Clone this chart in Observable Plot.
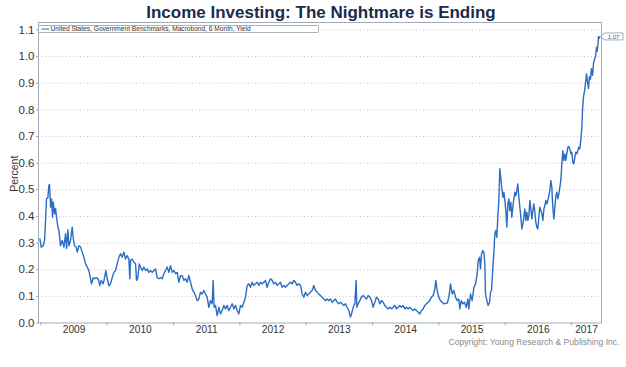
<!DOCTYPE html>
<html><head><meta charset="utf-8">
<script src="https://cdn.jsdelivr.net/npm/d3@7"></script>
<script src="https://cdn.jsdelivr.net/npm/@observablehq/plot@0.6"></script>
<style>body{margin:0;background:#fff}</style>
</head><body><div id="chart"></div>
<script>
// decimal years
const dates = [
2008.985,2009.005,2009.035,2009.055,2009.070,2009.085,2009.105,2009.120,2009.130,2009.146,
2009.161,2009.176,2009.186,2009.206,2009.221,2009.236,2009.256,2009.271,2009.296,2009.321,
2009.347,2009.372,2009.387,2009.407,2009.422,2009.447,2009.472,2009.487,2009.507,2009.532,
2009.548,2009.573,2009.598,2009.623,2009.648,2009.673,2009.698,2009.723,2009.749,2009.764,
2009.789,2009.809,2009.834,2009.864,2009.889,2009.909,2009.939,2009.960,2009.980,2010.000,
2010.025,2010.050,2010.075,2010.100,2010.125,2010.151,2010.176,2010.201,2010.226,2010.251,
2010.276,2010.301,2010.326,2010.341,2010.352,2010.377,2010.402,2010.427,2010.442,2010.462,
2010.482,2010.502,2010.527,2010.553,2010.578,2010.603,2010.628,2010.653,2010.678,2010.703,
2010.728,2010.753,2010.778,2010.804,2010.829,2010.854,2010.879,2010.904,2010.929,2010.954,
2010.980,2011.005,2011.030,2011.055,2011.080,2011.105,
2011.130,2011.155,2011.180,2011.205,2011.230,2011.256,2011.281,2011.306,2011.331,2011.356,
2011.381,2011.406,2011.431,2011.457,2011.482,2011.507,2011.532,2011.557,2011.582,2011.597,
2011.612,2011.632,2011.658,2011.683,2011.708,2011.733,2011.758,2011.783,2011.808,2011.833,
2011.859,2011.884,2011.909,2011.934,2011.959,2011.984,2012.009,2012.034,2012.060,2012.085,
2012.110,2012.135,2012.160,2012.185,2012.210,2012.235,2012.261,2012.286,2012.311,2012.336,
2012.361,2012.386,2012.411,2012.436,2012.462,2012.487,2012.512,2012.537,2012.562,2012.587,
2012.612,2012.637,2012.663,2012.688,2012.713,2012.738,2012.763,2012.788,2012.813,2012.838,
2012.863,2012.889,2012.914,2012.939,2012.964,2012.989,2013.014,2013.039,2013.064,2013.090,
2013.115,2013.140,2013.165,2013.190,2013.215,2013.240,2013.265,2013.291,2013.316,2013.341,
2013.366,2013.391,2013.416,2013.441,2013.466,2013.492,2013.517,2013.542,2013.567,2013.592,
2013.617,2013.642,2013.667,2013.683,2013.703,2013.718,2013.733,2013.753,2013.763,2013.783,
2013.808,2013.833,2013.858,2013.884,2013.909,2013.934,2013.959,2013.984,2014.009,2014.034,
2014.059,2014.085,2014.110,2014.135,2014.160,2014.185,2014.210,2014.235,2014.261,2014.286,
2014.311,2014.336,2014.361,2014.386,2014.411,2014.436,2014.461,2014.487,2014.512,2014.537,
2014.562,2014.587,2014.612,2014.637,2014.662,2014.687,2014.713,2014.738,2014.763,2014.788,
2014.813,2014.838,2014.863,2014.888,2014.914,2014.939,2014.954,2014.974,2014.999,2015.024,
2015.075,2015.126,2015.151,2015.176,2015.201,2015.226,2015.251,2015.276,2015.301,2015.316,
2015.337,2015.362,2015.387,2015.412,2015.437,2015.452,2015.477,2015.502,2015.528,2015.553,
2015.578,2015.593,2015.613,2015.628,2015.643,2015.663,2015.678,2015.693,2015.703,2015.729,
2015.744,2015.764,2015.779,2015.794,2015.814,2015.829,2015.844,2015.859,2015.874,2015.889,
2015.904,2015.919,2015.935,2015.950,2015.965,2015.980,2015.995,2016.010,2016.025,2016.040,
2016.055,2016.070,2016.085,2016.100,2016.115,2016.130,2016.146,2016.161,2016.176,2016.191,
2016.206,2016.221,2016.236,2016.251,2016.266,2016.281,2016.296,2016.311,2016.326,2016.342,
2016.357,2016.372,2016.387,2016.402,2016.417,2016.432,2016.447,2016.462,2016.477,2016.492,
2016.507,2016.522,2016.538,2016.553,2016.568,2016.583,2016.598,2016.613,2016.628,2016.643,
2016.658,2016.673,2016.688,2016.703,2016.718,2016.734,2016.749,2016.764,2016.779,2016.794,
2016.809,2016.824,2016.839,2016.854,2016.869,2016.884,2016.899,2016.914,2016.929,2016.945,
2016.960,2016.975,2016.990,2017.005,2017.020,2017.035,2017.050,2017.065,2017.080,2017.095,
2017.110,2017.125,2017.141,2017.156,2017.166,2017.181,2017.196,2017.211,2017.226,2017.241,
2017.256,2017.271,2017.286,2017.301,2017.317,2017.332,2017.347,2017.362,2017.377,2017.387,
2017.400,2017.407,2017.422
];
// percent
const yields = [
0.316,0.285,0.29,0.31,0.385,0.466,0.47,0.516,0.52,0.435,
0.466,0.397,0.454,0.41,0.43,0.397,0.36,0.35,0.29,0.31,
0.285,0.335,0.28,0.35,0.29,0.31,0.36,0.32,0.29,0.285,
0.266,0.29,0.285,0.266,0.247,0.222,0.21,0.197,0.166,0.147,
0.17,0.166,0.17,0.166,0.14,0.16,0.147,0.17,0.197,0.166,
0.14,0.147,0.17,0.19,0.197,0.222,0.247,0.26,0.247,0.266,
0.24,0.253,0.24,0.166,0.235,0.24,0.228,0.222,0.16,0.17,
0.222,0.21,0.197,0.21,0.197,0.203,0.19,0.197,0.19,0.197,
0.203,0.17,0.166,0.17,0.166,0.185,0.197,0.21,0.19,0.215,
0.19,0.197,0.185,0.19,0.153,0.178,
0.178,0.16,0.166,0.153,0.178,0.153,0.128,0.116,0.103,0.084,
0.09,0.116,0.109,0.122,0.109,0.097,0.059,0.084,0.072,0.16,
0.059,0.066,0.028,0.059,0.034,0.047,0.066,0.053,0.066,0.047,
0.059,0.072,0.053,0.066,0.047,0.034,0.066,0.059,0.078,0.097,
0.141,0.147,0.134,0.153,0.141,0.147,0.153,0.141,0.153,0.147,
0.153,0.16,0.134,0.153,0.166,0.16,0.147,0.153,0.141,0.147,
0.153,0.134,0.141,0.134,0.141,0.147,0.153,0.147,0.16,0.153,
0.141,0.147,0.141,0.109,0.097,0.116,0.103,0.109,0.116,0.122,
0.141,0.122,0.116,0.109,0.103,0.097,0.09,0.084,0.09,0.084,
0.09,0.078,0.084,0.09,0.078,0.072,0.078,0.072,0.066,0.072,
0.059,0.047,0.022,0.034,0.053,0.066,0.072,0.16,0.059,0.072,
0.084,0.097,0.103,0.097,0.09,0.103,0.097,0.084,0.059,0.078,
0.097,0.09,0.072,0.084,0.078,0.066,0.059,0.053,0.059,0.053,
0.059,0.066,0.053,0.059,0.066,0.059,0.066,0.053,0.059,0.053,
0.059,0.053,0.047,0.053,0.047,0.041,0.034,0.047,0.053,0.066,
0.072,0.078,0.084,0.097,0.103,0.128,0.16,0.122,0.097,0.084,
0.072,0.075,0.097,0.147,0.109,0.122,0.097,0.084,0.09,0.053,
0.084,0.072,0.078,0.059,0.09,0.053,0.109,0.084,0.134,0.147,
0.184,0.234,0.247,0.203,0.26,0.272,0.266,0.222,0.109,0.078,
0.066,0.078,0.116,0.122,0.209,0.26,0.335,0.347,0.322,0.397,
0.46,0.579,0.541,0.503,0.472,0.491,0.46,0.422,0.36,0.447,
0.466,0.422,0.453,0.397,0.435,0.466,0.491,0.478,0.497,0.522,
0.472,0.435,0.397,0.353,0.372,0.397,0.428,0.385,0.416,0.385,
0.403,0.46,0.428,0.391,0.422,0.447,0.416,0.378,0.36,0.353,
0.397,0.435,0.422,0.41,0.385,0.428,0.44,0.46,0.447,0.46,
0.478,0.497,0.535,0.51,0.435,0.391,0.435,0.478,0.491,0.466,
0.485,0.51,0.535,0.597,0.647,0.61,0.635,0.61,0.635,0.66,
0.663,0.653,0.635,0.641,0.603,0.597,0.622,0.641,0.635,0.647,
0.66,0.653,0.691,0.735,0.80,0.85,0.87,0.90,0.935,0.905,
0.88,0.925,0.915,0.955,0.93,0.975,0.99,1.0,1.035,1.02,
1.05,1.075,1.07
];
const yearTicks = [2009,2010,2011,2012,2013,2014,2015,2016,2017];
const yearLabelPos = [2009.5,2010.5,2011.5,2012.5,2013.5,2014.5,2015.5,2016.5,2017.226];
const yearLabels = ["2009","2010","2011","2012","2013","2014","2015","2016","2017"];
const yTicks = [0,0.1,0.2,0.3,0.4,0.5,0.6,0.7,0.8,0.9,1.0,1.1];
const title = "Income Investing: The Nightmare is Ending";
const seriesName = "United States, Government Benchmarks, Macrobond, 6 Month, Yield";
const yLabel = "Percent";
const copyright = "Copyright: Young Research & Publishing Inc.";
const lastLabel = "1.07";

const data = dates.map((t, i) => ({t, v: yields[i]}));
const FONT = "'Liberation Sans', Arial, sans-serif";
const FRAME = "#a3abb8";
const BLUE = "#2b6cc4";

const plot = Plot.plot({
  width: 626, height: 367,
  marginTop: 22, marginBottom: 44.5, marginLeft: 38, marginRight: 25,
  style: {fontFamily: FONT, fontSize: "11px", color: "#333", background: "#fff", overflow: "visible"},
  x: {type: "linear", domain: [2008.964, 2017.452]},
  y: {domain: [0, 1.128]},
  marks: [
    Plot.gridY(yTicks.filter(d => d > 0), {stroke: "#c4c4c4", strokeOpacity: 1, strokeDasharray: "1,2.5"}),
    Plot.line(data, {x: "t", y: "v", stroke: BLUE, strokeWidth: 1.4}),
    Plot.frame({stroke: FRAME}),
    Plot.axisY(yTicks, {tickSize: 2, tickPadding: 2, tickFormat: d => d.toFixed(1), fontSize: 11.5, label: null, stroke: FRAME, fill: "#333"}),
    Plot.axisX(yearTicks, {tickSize: 3, tickFormat: () => "", label: null, stroke: FRAME}),
    Plot.axisX(yearLabelPos, {tickSize: 0, tickPadding: 3, tickFormat: d => yearLabels[yearLabelPos.indexOf(d)], label: null, fontSize: 10.2, fill: "#333"}),
    Plot.text([title], {frameAnchor: "top", lineAnchor: "middle", dx: 1, dy: -9.5, text: d => d, fontSize: 17, fontWeight: "bold", fill: "#1b2a4a"}),
    Plot.text([yLabel], {frameAnchor: "left", lineAnchor: "middle", textAnchor: "middle", dx: -24, dy: 1, rotate: -90, text: d => d, fontSize: 10.5, fill: "#333"}),
    Plot.text([copyright], {frameAnchor: "bottom-right", lineAnchor: "middle", dx: 18, dy: 19.5, textAnchor: "end", text: d => d, fontSize: 8.6, fill: "#8a8a8a"})
  ]
});

const svg = d3.select(plot);
const sx = plot.scale("x"), sy = plot.scale("y");
// legend box
const lg = svg.append("g").attr("text-anchor", "start");
lg.append("rect").attr("x", 38.5).attr("y", 25.5).attr("width", 280).attr("height", 7)
  .attr("fill", "#fff").attr("stroke", "#9a9a9a").attr("stroke-width", 0.8).attr("rx", 1);
lg.append("line").attr("x1", 41.5).attr("x2", 49).attr("y1", 29).attr("y2", 29)
  .attr("stroke", BLUE).attr("stroke-width", 1);
lg.append("text").attr("x", 50.5).attr("y", 29).attr("dy", "0.35em").attr("text-anchor", "start")
  .attr("font-size", 6.6).attr("fill", "#333").text(seriesName);

// last value label
const last = data[data.length - 1];
const px = sx.apply(last.t), py = sy.apply(last.v);
const cy = py - 1, bx = px + 5, w = 19, h = 7, by = cy - h / 2;
const vb = svg.append("g");
vb.append("path")
  .attr("d", `M${px + 1.5},${cy} L${bx},${cy - 2.5} L${bx},${by} L${bx + w},${by} L${bx + w},${by + h} L${bx},${by + h} L${bx},${cy + 2.5} Z`)
  .attr("fill", "#fff").attr("stroke", "#8a9ab0").attr("stroke-width", 0.8);
vb.append("text").attr("x", bx + w / 2).attr("y", cy).attr("dy", "0.35em").attr("text-anchor", "middle")
  .attr("font-size", 6).attr("fill", "#506080").text(lastLabel);
vb.append("circle").attr("cx", px).attr("cy", py).attr("r", 1.2).attr("fill", BLUE);

document.getElementById("chart").appendChild(plot);
</script>
</body></html>
